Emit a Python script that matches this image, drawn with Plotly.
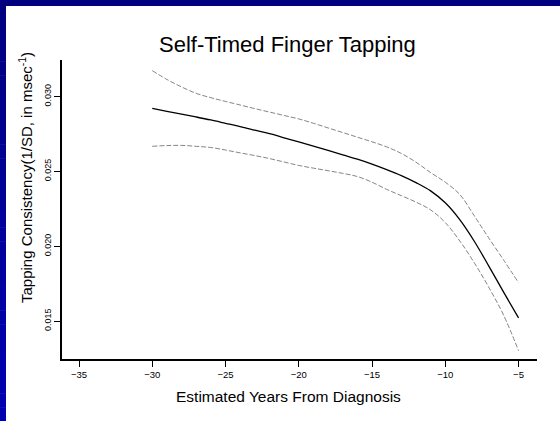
import plotly.graph_objects as go

# Smoothed fit of tapping consistency with its confidence band, one value per year
years = [-30, -29, -28, -27, -26, -25, -24, -23, -22, -21, -20, -19, -18,
         -17, -16, -15, -14, -13, -12, -11, -10, -9, -8, -7, -6, -5]
fit = [0.02922, 0.02902, 0.02883, 0.02864, 0.02844, 0.02822, 0.02800, 0.02776, 0.02752,
       0.02725, 0.02697, 0.02669, 0.02640, 0.02611, 0.02582, 0.02549, 0.02512, 0.02472,
       0.02425, 0.02370, 0.02290, 0.02176, 0.02030, 0.01862, 0.01690, 0.01521]
upper = [0.03174, 0.03115, 0.03065, 0.03022, 0.02993, 0.02968, 0.02944, 0.02920, 0.02897,
         0.02874, 0.02851, 0.02822, 0.02791, 0.02760, 0.02729, 0.02698, 0.02664, 0.02620,
         0.02562, 0.02492, 0.02428, 0.02345, 0.02200, 0.02050, 0.01905, 0.01756]
lower = [0.02668, 0.02673, 0.02674, 0.02668, 0.02660, 0.02643, 0.02624, 0.02606, 0.02586,
         0.02563, 0.02540, 0.02522, 0.02505, 0.02487, 0.02466, 0.02428, 0.02380, 0.02338,
         0.02295, 0.02243, 0.02158, 0.02034, 0.01886, 0.01720, 0.01535, 0.01301]

x_ticks = [-35, -30, -25, -20, -15, -10, -5]
y_ticks = [0.015, 0.020, 0.025, 0.030]
y_tick_text = ["0.015", "0.020", "0.025", "0.030"]

W, H = 560, 421
ML, MR, MT, MB = 62, 23, 60, 62
FONT = "Arial, Liberation Sans, sans-serif"

fig = go.Figure()
fig.add_trace(go.Scatter(x=years, y=upper, mode="lines",
                         line=dict(color="#666666", width=0.8, dash="5px,2px",
                                   shape="spline", smoothing=1.0)))
fig.add_trace(go.Scatter(x=years, y=lower, mode="lines",
                         line=dict(color="#666666", width=0.8, dash="5px,2px",
                                   shape="spline", smoothing=1.0)))
fig.add_trace(go.Scatter(x=years, y=fit, mode="lines",
                         line=dict(color="black", width=1.3, shape="spline", smoothing=1.0)))

pw, ph = W - ML - MR, H - MT - MB


def px_x(p):
    return (p - ML) / pw


def px_y(p):
    return (H - MB - p) / ph


# Blue frame along the top and a darkening strip down the left side
shapes = [dict(type="rect", xref="paper", yref="paper", x0=px_x(0), x1=px_x(W),
               y0=px_y(6), y1=px_y(0), fillcolor="#000080", line_width=0, layer="below")]
n = 30
for i in range(n):
    y0p = 6 + (H - 6) * i / n
    y1p = 6 + (H - 6) * (i + 1) / n
    b = int(0x80 + (0xB4 - 0x80) * (i + 0.5) / n)
    shapes.append(dict(type="rect", xref="paper", yref="paper", x0=px_x(0), x1=px_x(6),
                       y0=px_y(y1p + 0.5), y1=px_y(y0p), fillcolor=f"#0000{b:02X}",
                       line_width=0, layer="below"))

annotations = [
    dict(text="Self-Timed Finger Tapping", xref="paper", yref="paper",
         x=px_x(287.5), y=px_y(44.5), showarrow=False, xanchor="center", yanchor="middle",
         font=dict(family=FONT, size=22, color="black")),
    dict(text="Estimated Years From Diagnosis", xref="paper", yref="paper",
         x=px_x(288), y=px_y(396), showarrow=False, xanchor="center", yanchor="middle",
         font=dict(family=FONT, size=15.5, color="black")),
    dict(text="Tapping Consistency(1/SD, in msec<sup>-1</sup>)", xref="paper", yref="paper",
         x=px_x(25), y=px_y(178), showarrow=False, xanchor="center", yanchor="middle",
         textangle=-90, font=dict(family=FONT, size=15, color="black")),
]

fig.update_layout(
    width=W, height=H,
    margin=dict(l=ML, r=MR, t=MT, b=MB),
    paper_bgcolor="white", plot_bgcolor="white",
    showlegend=False,
    shapes=shapes,
    annotations=annotations,
    font=dict(family=FONT, color="black"),
)
fig.update_xaxes(range=[-36.16, -3.74], tickvals=x_ticks, ticks="outside", ticklen=6,
                 tickwidth=1, tickcolor="black", showline=True, linecolor="black",
                 linewidth=1.5, showgrid=False, zeroline=False,
                 tickfont=dict(family=FONT, size=9.5, color="black"))
fig.update_yaxes(range=[0.01246, 0.03245], tickvals=y_ticks, ticktext=y_tick_text,
                 tickangle=-90, ticks="outside", ticklen=6, tickwidth=1, tickcolor="black",
                 showline=True, linecolor="black", linewidth=1.5, showgrid=False,
                 zeroline=False, tickfont=dict(family=FONT, size=9, color="black"))

fig.write_html("out.html")
